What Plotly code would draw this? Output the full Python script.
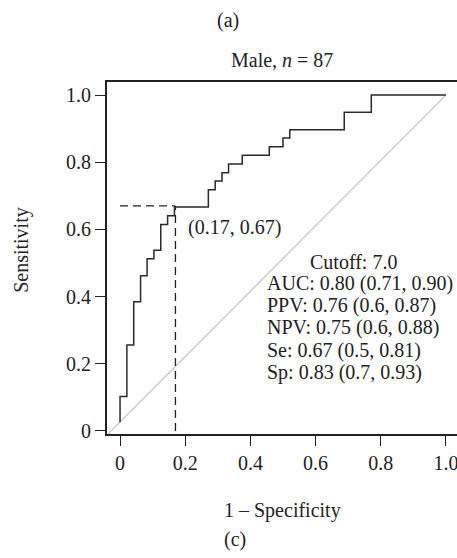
import plotly.graph_objects as go

# ROC step-curve corner points (1 - specificity, sensitivity)
fpr = [0.0, 0.0, 0.021, 0.042, 0.063, 0.083, 0.104, 0.125, 0.146, 0.167,
       0.271, 0.292, 0.313, 0.333, 0.375, 0.458, 0.5, 0.521, 0.688, 0.771, 1.0]
tpr = [0.026, 0.103, 0.256, 0.385, 0.462, 0.513, 0.538, 0.615, 0.641, 0.667,
       0.718, 0.744, 0.769, 0.795, 0.821, 0.846, 0.872, 0.897, 0.949, 1.0, 1.0]

cut_x = 0.17
cut_y = 0.67
diag_x = [-0.04, 1.0]
diag_y = [-0.012, 1.0]

tick_vals = [0, 0.2, 0.4, 0.6, 0.8, 1.0]
tick_text = ["0", "0.2", "0.4", "0.6", "0.8", "1.0"]

stats_lines = ["AUC: 0.80 (0.71, 0.90)", "PPV: 0.76 (0.6, 0.87)",
               "NPV: 0.75 (0.6, 0.88)", "Se: 0.67 (0.5, 0.81)", "Sp: 0.83 (0.7, 0.93)"]
cutoff_text = "Cutoff: 7.0"

FONT = "Liberation Serif"
FS = 20
TXT = dict(family=FONT, size=FS, color="#222")
fig = go.Figure()

fig.add_trace(go.Scatter(x=diag_x, y=diag_y, mode="lines",
                         line=dict(color="#c4c4c4", width=1.2), hoverinfo="skip"))
fig.add_trace(go.Scatter(x=[0, cut_x], y=[cut_y, cut_y], mode="lines",
                         line=dict(color="#222", width=1.3, dash="8px,5px")))
fig.add_trace(go.Scatter(x=[cut_x, cut_x], y=[0, cut_y], mode="lines",
                         line=dict(color="#222", width=1.3, dash="8px,5px")))
fig.add_trace(go.Scatter(x=fpr, y=tpr, mode="lines", line_shape="hv",
                         line=dict(color="#2a2a2a", width=1.5)))

fig.add_annotation(x=0.202, y=0.607, xref="x", yref="y", text=f"({cut_x:.2f}, {cut_y:.2f})",
                   showarrow=False, xanchor="left", yanchor="middle", font=TXT)
fig.add_annotation(x=0.717, y=0.503, xref="x", yref="y", text=cutoff_text,
                   showarrow=False, xanchor="center", yanchor="middle", font=TXT)
ys = [0.440, 0.375, 0.307, 0.241, 0.173]
for t, yy in zip(stats_lines, ys):
    fig.add_annotation(x=0.444, y=yy, xref="x", yref="y", text=t,
                       showarrow=False, xanchor="left", yanchor="middle", font=TXT)

# titles / labels in paper coords
def paper_text(x, y, text, angle=0):
    fig.add_annotation(x=x, y=y, xref="paper", yref="paper", text=text, textangle=angle,
                       showarrow=False, xanchor="center", yanchor="middle", font=TXT)

paper_text(0.346, 1.176, "(a)")
paper_text(0.5, 1.0625, "Male, <i>n</i> = 87")
paper_text(-0.243, 0.523, "Sensitivity", angle=-90)
paper_text(0.5, -0.216, "1 \u2013 Specificity")
paper_text(0.366, -0.301, "(c)")

fig.update_layout(
    width=457, height=558,
    margin=dict(l=107, r=0, t=82, b=124, autoexpand=False),
    paper_bgcolor="white", plot_bgcolor="white",
    showlegend=False,
    font=TXT,
    xaxis=dict(range=[-0.04, 1.034], tickvals=tick_vals, ticktext=tick_text,
               showgrid=False, zeroline=False, showline=True, mirror=True,
               linecolor="#222", linewidth=2, ticks="outside", ticklen=10,
               tickcolor="#222", tickwidth=1.3, fixedrange=True,
               automargin=False, ticklabeloverflow="allow"),
    yaxis=dict(range=[-0.009, 1.039], tickvals=tick_vals, ticktext=tick_text,
               showgrid=False, zeroline=False, showline=True, mirror=False,
               linecolor="#222", linewidth=2, ticks="outside", ticklen=10,
               tickcolor="#222", tickwidth=1.3, fixedrange=True,
               automargin=False),
)

fig.write_html("out.html", config={"displayModeBar": False},
               post_script="document.body.style.margin='0px';document.body.style.overflow='hidden';")
